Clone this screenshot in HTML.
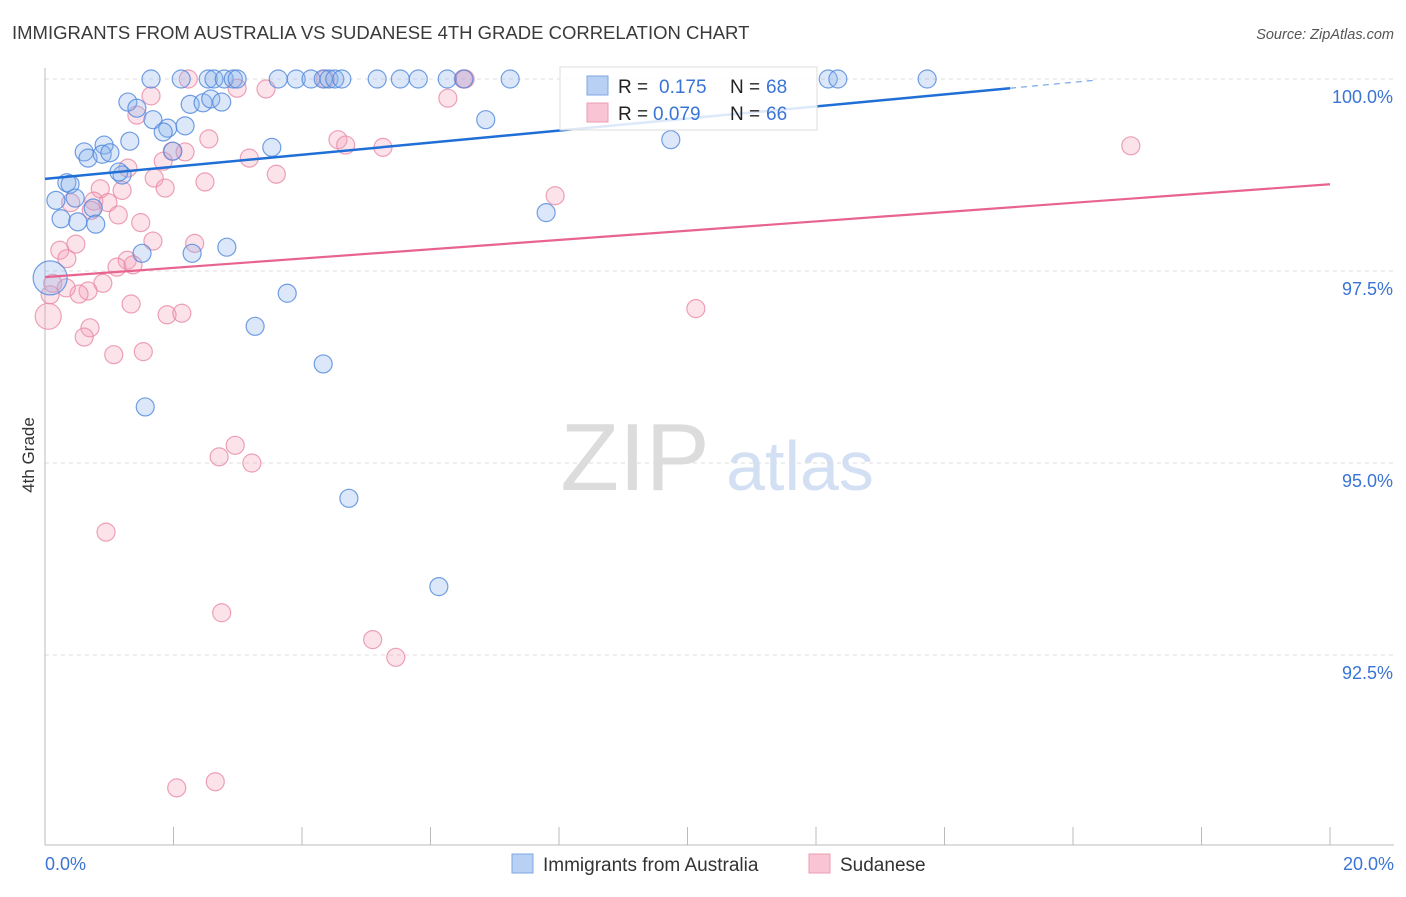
<!DOCTYPE html>
<html><head><meta charset="utf-8"><style>
body{margin:0;background:#fff;font-family:"Liberation Sans",sans-serif}
svg text{font-family:"Liberation Sans",sans-serif}
</style></head><body>
<svg id="chart" width="1406" height="892" viewBox="0 0 1406 892" xmlns="http://www.w3.org/2000/svg">
<text x="12" y="39" font-size="18.5" fill="#3a3a3a">IMMIGRANTS FROM AUSTRALIA VS SUDANESE 4TH GRADE CORRELATION CHART</text>
<text x="1394" y="39" font-size="14.5" fill="#555" text-anchor="end" font-style="italic">Source: ZipAtlas.com</text>
<text transform="translate(34,455) rotate(-90)" font-size="17" fill="#333" text-anchor="middle">4th Grade</text>
<g>
<text x="635" y="490" font-size="96" fill="#dcdcdc" text-anchor="middle" font-family="Liberation Serif, serif">ZIP</text>
<text x="800" y="490" font-size="70" fill="#d3e0f3" text-anchor="middle">atlas</text>
</g>
<g id="grid"></g>
<g id="axes"></g>
<g id="points"></g>
<g id="trends"></g>
<g>
<rect x="560" y="67" width="257" height="63" fill="#fff" fill-opacity="0.85" stroke="#ddd"/>
<rect x="587" y="76" width="21" height="19" fill="#b7d0f3" stroke="#7fa6e3"/>
<rect x="587" y="103" width="21" height="19" fill="#f9c4d3" stroke="#ec9bb3"/>
<text x="618" y="93" font-size="19" fill="#222">R = </text><text x="659" y="93" font-size="19" fill="#3a74d4">0.175</text>
<text x="730" y="93" font-size="19" fill="#222">N = </text><text x="766" y="93" font-size="19" fill="#3a74d4">68</text>
<text x="618" y="120" font-size="19" fill="#222">R = </text><text x="653" y="120" font-size="19" fill="#3a74d4">0.079</text>
<text x="730" y="120" font-size="19" fill="#222">N = </text><text x="766" y="120" font-size="19" fill="#3a74d4">66</text>
</g>
<g>
<rect x="512" y="854" width="21" height="19" fill="#b7d0f3" stroke="#7fa6e3"/>
<text x="543" y="871" font-size="19" fill="#333">Immigrants from Australia</text>
<rect x="809" y="854" width="21" height="19" fill="#f9c4d3" stroke="#ec9bb3"/>
<text x="840" y="871" font-size="19" fill="#333">Sudanese</text>
</g>
</svg>
<script>
const xTickVals=[0,2,4,6,8,10,12,14,16,18,20];
const yTickVals=[100,97.5,95,92.5];
const yTickLabels=["100.0%","97.5%","95.0%","92.5%"];
const xEndLabels=["0.0%","20.0%"];
const ausX=[1.65,2.12,2.54,2.63,2.79,2.93,2.99,3.63,3.91,4.14,4.33,4.42,4.51,4.62,5.17,5.53,5.81,6.26,6.52,7.24,12.19,12.34,13.73,1.29,2.26,2.46,2.58,2.75,1.43,1.68,1.91,2.18,1.84,1.32,0.92,3.53,9.74,0.61,0.67,0.89,1.01,1.20,1.15,0.34,0.39,0.17,0.47,0.75,0.25,0.51,0.79,7.80,2.83,1.51,2.29,0.08,3.77,3.27,4.33,1.56,4.73,6.13,6.86,1.99];
const ausY=[100,100,100,100,100,100,100,100,100,100,100,100,100,100,100,100,100,100,100,100,100,100,100,99.70,99.67,99.69,99.74,99.70,99.62,99.47,99.36,99.39,99.31,99.19,99.14,99.11,99.21,99.05,98.97,99.02,99.04,98.75,98.79,98.65,98.63,98.42,98.45,98.32,98.18,98.14,98.11,98.26,97.81,97.73,97.73,97.41,97.21,96.78,96.29,95.73,94.54,93.39,99.47,99.06];
const sudX=[2.23,6.51,6.54,4.36,2.99,3.44,1.65,6.27,1.43,2.55,4.56,4.68,5.26,1.98,2.18,3.18,1.84,1.29,3.60,1.70,0.86,1.20,1.87,7.94,2.49,0.76,0.98,0.40,0.72,1.14,1.49,1.68,2.33,0.48,0.23,0.34,1.28,1.12,1.37,0.90,0.12,0.67,0.53,0.33,1.34,1.90,2.13,0.70,0.61,1.07,1.53,10.13,2.96,2.71,3.22,0.95,2.75,5.10,5.46,2.05,2.65,16.90,0.05,0.08];
const sudY=[100,100,100,100,99.88,99.87,99.78,99.75,99.53,99.22,99.21,99.14,99.11,99.06,99.05,98.97,98.93,98.84,98.76,98.71,98.57,98.55,98.58,98.48,98.66,98.41,98.39,98.39,98.29,98.23,98.13,97.89,97.86,97.85,97.77,97.66,97.64,97.55,97.58,97.34,97.34,97.24,97.20,97.28,97.07,96.93,96.95,96.76,96.64,96.41,96.45,97.01,95.23,95.08,95.00,94.10,93.05,92.70,92.47,90.77,90.85,99.13,96.91,97.19];
const ausTrend=[98.70,99.88];
const ausTrendX=[0,15.02,16.35];
const sudTrend=[97.42,98.63];

const X0=45,X1=1330,Y100=79,PX_PER=76.8;
const sx=v=>X0+(v/20)*(X1-X0);
const sy=v=>Y100+(100-v)*PX_PER;
const NS="http://www.w3.org/2000/svg";
function mk(tag,attrs,parent){const e=document.createElementNS(NS,tag);for(const k in attrs)e.setAttribute(k,attrs[k]);parent.appendChild(e);return e;}
const grid=document.getElementById('grid'),axes=document.getElementById('axes'),pts=document.getElementById('points'),tr=document.getElementById('trends');
yTickVals.forEach((v,i)=>{
  const l=mk('line',{x1:X0,x2:1394,y1:sy(v),y2:sy(v),stroke:'#ddd','stroke-dasharray':'4,4'},grid);
  
  
  const t=mk('text',{x:1393,y:sy(v)+24,'font-size':18,fill:'#3a74d4','text-anchor':'end'},axes);
  t.textContent=yTickLabels[i];
  
  
});
const ax=mk('line',{x1:X0,x2:X0,y1:68,y2:845,stroke:'#bbb'},axes);


const bx=mk('line',{x1:X0,x2:1394,y1:845,y2:845,stroke:'#bbb'},axes);


xTickVals.forEach(v=>{
  const t=mk('line',{x1:sx(v),x2:sx(v),y1:827,y2:845,stroke:'#bbb'},axes);
  
  
});
[[0,'start',45],[20,'end',1394]].forEach((d,i)=>{
  const t=mk('text',{x:d[2],y:870,'font-size':18,fill:'#3a74d4','text-anchor':d[1]},axes);
  t.textContent=xEndLabels[i];
  
  
});
function drawPts(xs,ys,fill,stroke,name,bigIdx,bigR){
  xs.forEach((x,i)=>{
    const r=(i===bigIdx)?bigR:9;
    const c=mk('circle',{cx:sx(x),cy:sy(ys[i]),r:r,fill:fill,'fill-opacity':0.3,stroke:stroke,'stroke-width':1.2,'stroke-opacity':0.8},pts);
    
    
  });
}
drawPts(sudX,sudY,'#f4a3bb','#e889a6','sudanese-point',62,13);
drawPts(ausX,ausY,'#8ab2ec','#4f87dc','australia-point',55,17);
const l1=mk('line',{x1:sx(ausTrendX[0]),y1:sy(ausTrend[0]),x2:sx(ausTrendX[1]),y2:sy(ausTrend[1]),stroke:'#1f6fd6','stroke-width':2.5},tr);


const slope=(ausTrend[1]-ausTrend[0])/(ausTrendX[1]-ausTrendX[0]);
const l1d=mk('line',{x1:sx(ausTrendX[1]),y1:sy(ausTrend[1]),x2:sx(ausTrendX[2]),y2:sy(ausTrend[1]+slope*(ausTrendX[2]-ausTrendX[1])),stroke:'#1f6fd6','stroke-width':1.2,'stroke-dasharray':'6,5','stroke-opacity':0.6},tr);


const l2=mk('line',{x1:sx(0),y1:sy(sudTrend[0]),x2:sx(20),y2:sy(sudTrend[1]),stroke:'#e8648f','stroke-width':2.2},tr);


</script>
</body></html>
